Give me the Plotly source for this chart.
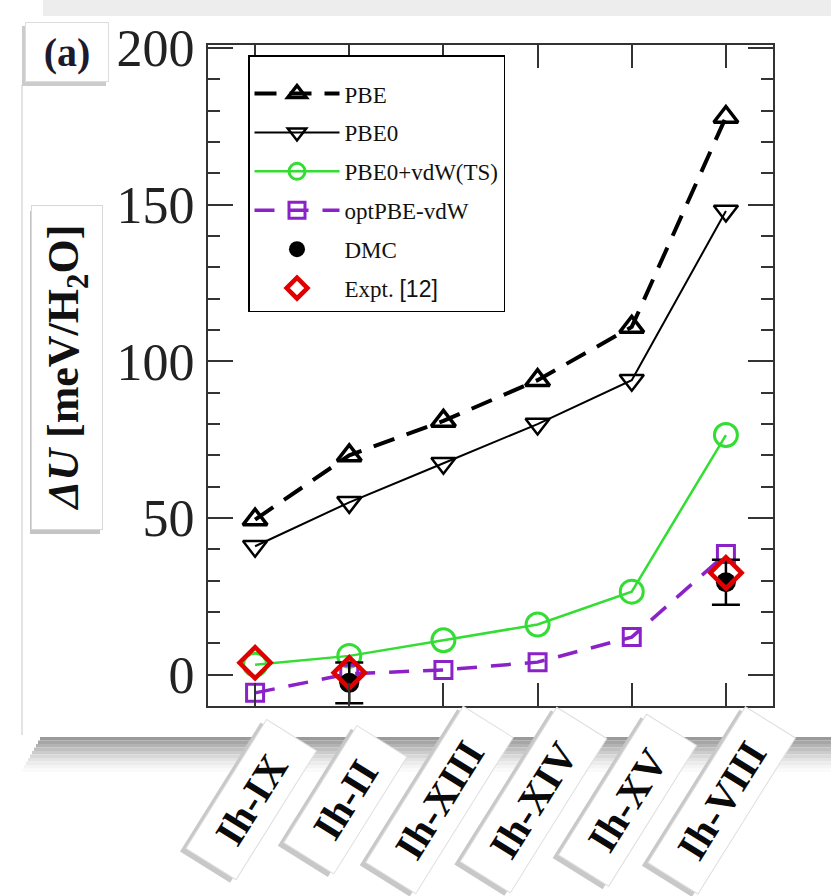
import plotly.graph_objects as go

# ---------------- data ----------------
phases = ["Ih-IX", "Ih-II", "Ih-XIII", "Ih-XIV", "Ih-XV", "Ih-VIII"]
pbe = [49.5, 70, 81, 94, 111, 178]
pbe0 = [41, 55, 67.5, 80, 94, 148]
pbe0_vdw = [3.2, 6, 11, 16, 26.5, 76.5]
optpbe_vdw = [-5.8, 0.3, 1.5, 4, 12, 38.5]
dmc_x = ["Ih-II", "Ih-VIII"]
dmc_y = [-2.6, 29.5]
dmc_err = [6.5, 7.2]
expt_x = ["Ih-IX", "Ih-II", "Ih-VIII"]
expt_y = [3.8, 0.6, 32.5]
y_ticks = [0, 50, 100, 150, 200]

# ---------------- layout helpers (pixel -> paper) ----------------
W, H = 831, 896
L, R, T, B = 208, 773, 45, 706
def PX(px):
    return (px - L) / (R - L)
def PY(py):
    return (B - py) / (B - T)

SERIF = "Liberation Serif, Times New Roman, serif"
GREEN = "#33dd33"
PURPLE = "#8a22c8"
RED = "#e00000"

fig = go.Figure()
fig.add_trace(go.Scatter(
    x=phases, y=pbe, name="PBE", mode="lines+markers",
    line=dict(color="black", width=4, dash="22px,13px"),
    marker=dict(symbol="triangle-up-open", size=21, color="black", line=dict(width=3.5, color="black")),
))
fig.add_trace(go.Scatter(
    x=phases, y=pbe0, name="PBE0", mode="lines+markers",
    line=dict(color="black", width=2),
    marker=dict(symbol="triangle-down-open", size=21, color="black", line=dict(width=2.5, color="black")),
))
fig.add_trace(go.Scatter(
    x=phases, y=pbe0_vdw, name="PBE0+vdW(TS)", mode="lines+markers",
    line=dict(color=GREEN, width=2.5),
    marker=dict(symbol="circle-open", size=23, color=GREEN, line=dict(width=3, color=GREEN)),
))
fig.add_trace(go.Scatter(
    x=phases, y=optpbe_vdw, name="optPBE-vdW", mode="lines+markers",
    line=dict(color=PURPLE, width=3.5, dash="20px,14px"),
    marker=dict(symbol="square-open", size=17, color=PURPLE, line=dict(width=3, color=PURPLE)),
))
fig.add_trace(go.Scatter(
    x=dmc_x, y=dmc_y, name="DMC", mode="markers",
    marker=dict(symbol="circle", size=20, color="black"),
    error_y=dict(type="data", array=dmc_err, color="black", thickness=2.5, width=14),
))
fig.add_trace(go.Scatter(
    x=expt_x, y=expt_y, name="Expt. <span style='font-family:Arial'>[12]</span>", mode="markers",
    marker=dict(symbol="diamond-open", size=24, color=RED, line=dict(width=4.5, color=RED)),
))

shapes = []
# light gray band at top of page
shapes.append(dict(type="rect", xref="paper", yref="paper", x0=PX(43), x1=PX(831), y0=PY(16), y1=PY(0),
                   fillcolor="#ededed", line=dict(width=0), layer="below"))
# left edge of the card
shapes.append(dict(type="line", xref="paper", yref="paper", x0=PX(22), x1=PX(22), y0=PY(85), y1=PY(735),
                   line=dict(color="#e3e3e3", width=2), layer="below"))
# shadow under card (stepped gradient)
grays = ["#9a9a9a", "#a6a6a6", "#b3b3b3", "#c0c0c0", "#cccccc", "#d8d8d8", "#e3e3e3", "#ececec", "#f4f4f4", "#fafafa"]
for i, g in enumerate(grays):
    shapes.append(dict(type="rect", xref="paper", yref="paper", x0=PX(40 - i * 2), x1=PX(831),
                       y0=PY(737 + 3.5 * (i + 1)), y1=PY(737 + 3.5 * i),
                       fillcolor=g, line=dict(width=0), layer="below"))
# shadows of the "(a)" box and of the axis-title box
shapes.append(dict(type="rect", xref="paper", yref="paper", x0=PX(22), x1=PX(106), y0=PY(86), y1=PY(26),
                   fillcolor="#cccccc", line=dict(width=0), layer="below"))
shapes.append(dict(type="rect", xref="paper", yref="paper", x0=PX(30), x1=PX(100), y0=PY(534), y1=PY(211),
                   fillcolor="#c4c4c4", line=dict(width=0), layer="below"))

annotations = []
# "(a)" label box
annotations.append(dict(text="<b>(a)</b>", x=PX(67), y=PY(52), xref="paper", yref="paper",
                        xanchor="center", yanchor="middle",
                        showarrow=False, font=dict(family=SERIF, size=40, color="#1e1a2e"),
                        bgcolor="white", bordercolor="#dddddd", borderwidth=1, width=72, height=48, borderpad=5))
# y-axis title box
ytitle = "<b><i>ΔU</i> [meV/H<sub>2</sub>O]</b>"
annotations.append(dict(text=ytitle, x=PX(67), y=PY(368), xref="paper", yref="paper", textangle=-90,
                        xanchor="center", yanchor="middle",
                        showarrow=False, font=dict(family=SERIF, size=44, color="#111111"),
                        bgcolor="white", bordercolor="#d8d8d8", borderwidth=1, width=315, height=62, borderpad=4))
# category labels in rotated boxes (gray copy behind acts as shadow)
nb = "\u00a0\u00a0"
for p in phases:
    annotations.append(dict(text="<b>" + nb + p + nb + "</b>", x=p, xref="x", y=PY(800), yref="paper",
                            xanchor="center", yanchor="middle",
                            xshift=-10, yshift=-3, textangle=-58, showarrow=False,
                            font=dict(family=SERIF, size=41, color="#c8c8c8"),
                            bgcolor="#c8c8c8", borderpad=6))
    annotations.append(dict(text="<b>" + nb + p + nb + "</b>", x=p, xref="x", y=PY(800), yref="paper",
                            xanchor="center", yanchor="middle",
                            xshift=-4, textangle=-58, showarrow=False,
                            font=dict(family=SERIF, size=41, color="#0a0a0a"),
                            bgcolor="white", bordercolor="#dedede", borderwidth=1, borderpad=6))

fig.update_layout(
    width=W, height=H,
    margin=dict(l=L, r=W - R, t=T, b=H - B, autoexpand=False),
    paper_bgcolor="white", plot_bgcolor="white",
    showlegend=True,
    legend=dict(x=PX(248), y=PY(55), xanchor="left", yanchor="top",
                bgcolor="white", bordercolor="black", borderwidth=1.5,
                font=dict(family=SERIF, size=23, color="#111111"),
                title=dict(text=" ", font=dict(size=12)),
                itemwidth=85, tracegroupgap=6, entrywidth=222, entrywidthmode="pixels"),
    xaxis=dict(type="category", categoryorder="array", categoryarray=phases, range=[-0.5, 5.5],
               showline=True, linecolor="#333333", linewidth=2, mirror="allticks",
               ticks="inside", ticklen=23, tickwidth=2, tickcolor="#333333",
               showticklabels=False, showgrid=False, zeroline=False, fixedrange=True),
    yaxis=dict(range=[-10, 201], tickvals=y_ticks, ticktext=[str(v) for v in y_ticks],
               showline=True, linecolor="#333333", linewidth=2, mirror="allticks",
               ticks="inside", ticklen=25, tickwidth=2, tickcolor="#333333",
               minor=dict(dtick=10, tick0=0, ticks="inside", ticklen=12, tickwidth=2, tickcolor="#333333"),
               tickfont=dict(family=SERIF, size=52, color="#222222"), ticklabelstandoff=1,
               showgrid=False, zeroline=False, fixedrange=True),
    shapes=shapes,
    annotations=annotations,
)
for i, tr in enumerate(fig.data):
    tr.legendgroup = "g%d" % i

fig.write_html("out.html")
